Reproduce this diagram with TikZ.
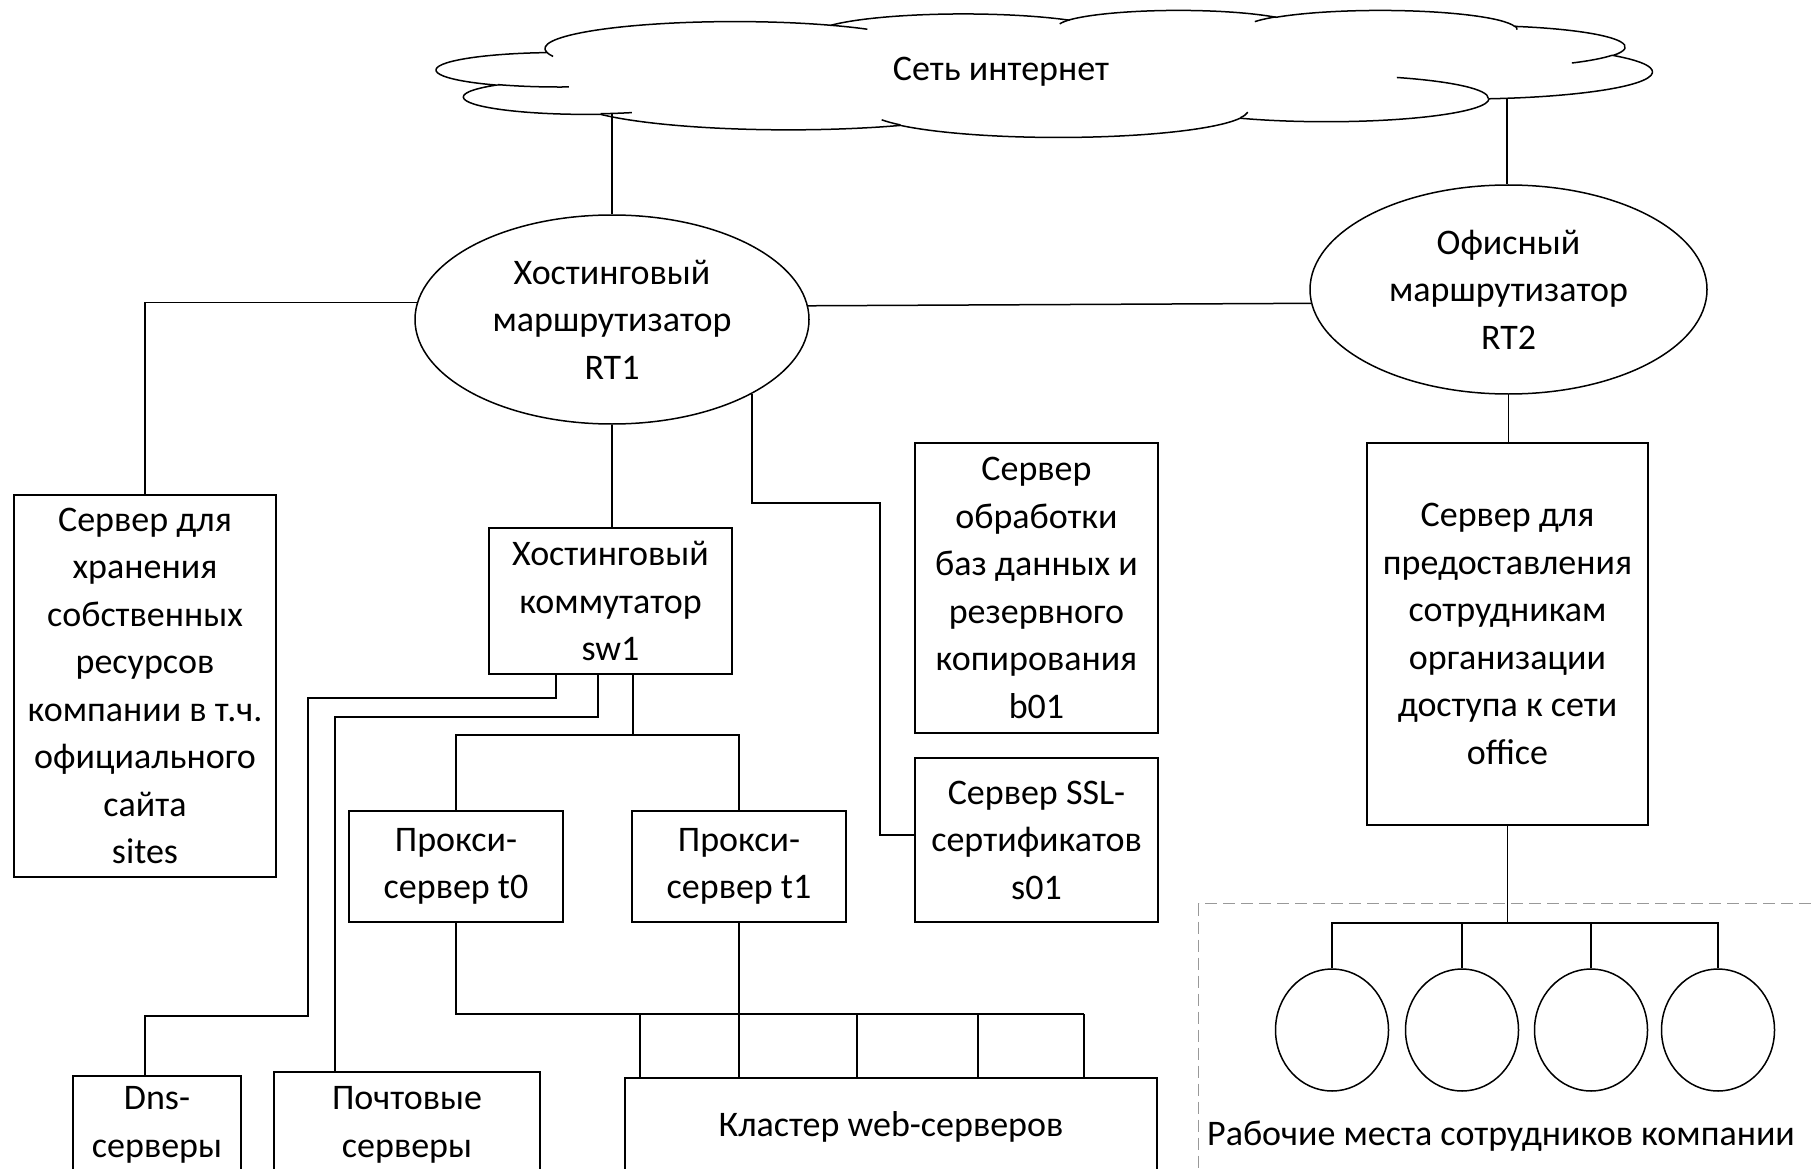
\documentclass[tikz,border=0pt]{standalone}
\usepackage{fontspec}
\setmainfont{Carlito}
\usetikzlibrary{shapes.geometric}
\begin{document}
\begin{tikzpicture}[x=1pt,y=-1pt,line width=1.5pt,
  every node/.style={font=\fontsize{36}{47.5}\selectfont,align=center,inner sep=0pt},
  box/.style={draw,rectangle,line width=1.5pt},
  oval/.style={draw,ellipse,line width=1.5pt},
  wsframe/.style={draw=gray!80,line width=1.3pt,dash pattern=on 12pt off 6pt}]
\useasboundingbox (0,0) rectangle (1814,1169);
\clip (0,0) rectangle (1814,1169);

% ---------- cloud ----------
\begin{scope}[shift={(437,10)},x=12.15pt,y=-1.27pt]
\draw (9.028,33.264)
  arc[start angle=-187.75,end angle=-59.64,x radius=15.632,y radius=21.273]
  arc[start angle=-152.02,end angle=-45.46,x radius=12.345,y radius=16.822]
  arc[start angle=-153.49,end angle=-37.32,x radius=10.104,y radius=13.762]
  arc[start angle=-139.73,end angle=-10.22,x radius=11.243,y radius=15.266]
  arc[start angle=-74.77,end angle=23.21,x radius=12.345,y radius=16.836]
  arc[start angle=-37.52,end angle=81.86,x radius=15.683,y radius=21.343]
  arc[start angle=0.46,end angle=121.98,x radius=13.391,y radius=18.211]
  arc[start angle=16.84,end angle=146.24,x radius=15.630,y radius=21.331]
  arc[start angle=58.98,end angle=150.19,x radius=17.870,y radius=24.405]
  arc[start angle=83.31,end angle=223.12,x radius=10.093,y radius=13.699]
  arc[start angle=120.36,end angle=264.11,x radius=10.058,y radius=13.762]
  -- cycle;
\draw (10.863,60.595) arc[start angle=85.55,end angle=120.36,x radius=10.058,y radius=13.762];
\draw (16.037,80.785) arc[start angle=68.23,end angle=83.30,x radius=10.093,y radius=13.699];
\draw (38.144,90.486) arc[start angle=146.24,end angle=158.47,x radius=15.630,y radius=21.331];
\draw (66.729,80.442) arc[start angle=4.74,end angle=16.84,x radius=15.630,y radius=21.331];
\draw (79.002,53.134) arc[start angle=-64.03,end angle=0.46,x radius=13.391,y radius=18.211];
\draw (96.755,35.542) arc[start angle=23.21,end angle=49.64,x radius=12.345,y radius=16.836];
\draw (88.713,12.560) arc[start angle=-10.22,end angle=0.82,x radius=11.243,y radius=15.266];
\draw (67.310,9.148) arc[start angle=-156.29,end angle=-139.73,x radius=11.243,y radius=15.266];
\draw (51.252,10.926) arc[start angle=-167.73,end angle=-153.49,x radius=10.104,y radius=13.762];
\draw (32.407,12.019) arc[start angle=-59.64,end angle=-45.73,x radius=15.632,y radius=21.273];
\draw (9.553,36.549) arc[start angle=163.19,end angle=172.25,x radius=15.632,y radius=21.273];
\end{scope}
\node (net) at (1001,72) {Сеть интернет};

% ---------- routers ----------
\node[oval,minimum width=394,minimum height=209] (rt1) at (612,319.5) {Хостинговый\\маршрутизатор\\RT1};
\node[oval,minimum width=397,minimum height=209] (rt2) at (1508.5,289.5) {Офисный\\маршрутизатор\\RT2};

% ---------- boxes ----------
\node[box,minimum width=262,minimum height=382] (sites) at (145,686) {Сервер для\\хранения\\собственных\\ресурсов\\компании в т.ч.\\официального\\сайта\\sites};
\node[box,minimum width=243,minimum height=146] (sw1) at (610.5,601) {Хостинговый\\коммутатор\\sw1};
\node[box,minimum width=243,minimum height=290] (b01) at (1036.5,588) {Сервер\\обработки\\баз данных и\\резервного\\копирования\\b01};
\node[box,minimum width=243,minimum height=164] (s01) at (1036.5,840) {Сервер SSL-\\сертификатов\\s01};
\node[box,minimum width=281,minimum height=382] (office) at (1507.5,634) {Сервер для\\предоставления\\сотрудникам\\организации\\доступа к сети\\office};
\node[box,minimum width=214,minimum height=111] (t0) at (456,866.5) {Прокси-\\сервер t0};
\node[box,minimum width=214,minimum height=111] (t1) at (739,866.5) {Прокси-\\сервер t1};

\node[box,anchor=north,minimum width=168,minimum height=200] (dns) at (157,1075) {};
\node (dnstext) at (157,1125) {Dns-\\серверы};
\node[box,anchor=north,minimum width=266,minimum height=200] (mail) at (407,1071) {};
\node (mailtext) at (407,1125) {Почтовые\\серверы};
\node[box,anchor=north,minimum width=532,minimum height=200] (cluster) at (891,1077) {};
\node (clustertext) at (891,1127) {Кластер web-серверов};

% ---------- workstations ----------
\node[wsframe,anchor=north west,minimum width=700,minimum height=400] (ws) at (1198,903) {};
\node[oval,minimum width=113,minimum height=122] (w1) at (1332,1030) {};
\node[oval,minimum width=113,minimum height=122] (w2) at (1462,1030) {};
\node[oval,minimum width=113,minimum height=122] (w3) at (1591,1030) {};
\node[oval,minimum width=113,minimum height=122] (w4) at (1718,1030) {};
\node (wstext) at (1501,1136) {Рабочие места сотрудников компании};

% ---------- connectors ----------
\coordinate (c1) at (612,113);
\coordinate (c2) at (1507,98);
\draw (c1) -- (rt1.north);
\draw (c2) -- (c2 |- rt2.north);
\draw (rt1.4.55) -- (rt2.184.2);
\draw (rt1.175.45) -| (sites.north);
\draw (rt1.south) -- (rt1.south |- sw1.north);
\draw (rt2.south) -- (rt2.south |- office.north);

\coordinate (r1) at (880,503);
\coordinate (r2) at (880,835);
\draw (rt1.-28) |- (r1) -- (r2) -- (r2 -| s01.west);

\coordinate (d1) at (556,698);
\coordinate (d2) at (308,698);
\coordinate (d3) at (308,1016);
\coordinate (d4) at (145,1016);
\draw (d1 |- sw1.south) -- (d1) -- (d2) -- (d3) -- (d4) -- (d4 |- dns.north);

\coordinate (m1) at (598,717);
\coordinate (m2) at (335,717);
\draw (m1 |- sw1.south) -- (m1) -- (m2) -- (m2 |- mail.north);

\coordinate (p1) at (633,735);
\draw (p1 |- sw1.south) -- (p1);
\draw (t0.north) |- (p1) -| (t1.north);

\coordinate (k1) at (1084,1014);
\coordinate (k2) at (640,1014);
\coordinate (k3) at (857,1014);
\coordinate (k4) at (978,1014);
\draw (t0.south) |- (k1);
\draw (t1.south) -- (t1.south |- cluster.north);
\draw (k1) -- (k1 |- cluster.north);
\draw (k2) -- (k2 |- cluster.north);
\draw (k3) -- (k3 |- cluster.north);
\draw (k4) -- (k4 |- cluster.north);

\coordinate (o1) at (1507.5,923);
\draw (office.south) -- (o1);
\draw (w1.north) |- (o1) -| (w4.north);
\draw (w2.north) -- (w2.north |- o1);
\draw (w3.north) -- (w3.north |- o1);
\end{tikzpicture}
\end{document}
